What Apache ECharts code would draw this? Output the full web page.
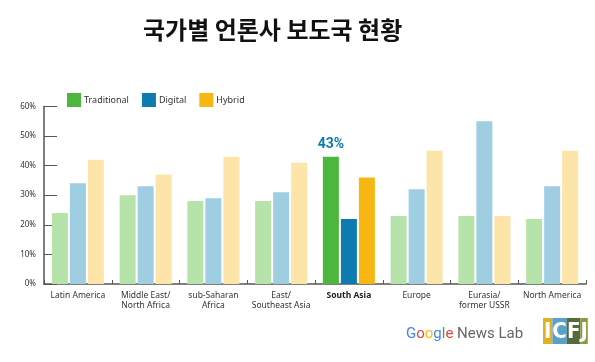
<!DOCTYPE html>
<html>
<head>
<meta charset="utf-8">
<script src="https://cdn.jsdelivr.net/npm/echarts@6/dist/echarts.min.js"></script>
<style>
html,body{margin:0;padding:0;background:#fff;}
#c{width:595px;height:362px;}
</style>
</head>
<body>
<div id="c"></div>
<script>
var title = '국가별 언론사 보도국 현황';
var categories = ['Latin America', 'Middle East/\nNorth Africa', 'sub-Saharan\nAfrica', 'East/\nSoutheast Asia', 'South Asia', 'Europe', 'Eurasia/\nformer USSR', 'North America'];
var seriesNames = ['Traditional', 'Digital', 'Hybrid'];
var traditional = [24, 30, 28, 28, 43, 23, 23, 22];
var digital = [34, 33, 29, 31, 22, 32, 55, 33];
var hybrid = [42, 37, 43, 41, 36, 45, 23, 45];
var highlightIndex = 4;
var highlightLabel = '43%';
var yTicks = [0, 10, 20, 30, 40, 50, 60];

var strongColors = ['#4cb63d', '#0d7bb0', '#f8b612'];
var lightColors = ['#b6e3a9', '#9fcee3', '#fde5a9'];
var values = [traditional, digital, hybrid];

var chart = echarts.init(document.getElementById('c'), null, {renderer: 'canvas'});

var series = values.map(function (arr, s) {
  return {
    name: seriesNames[s],
    type: 'bar',
    barWidth: 16,
    barGap: '12.5%',
    itemStyle: {color: strongColors[s]},
    data: arr.map(function (v, i) {
      var d = {value: v};
      if (i !== highlightIndex) {
        d.itemStyle = {color: lightColors[s]};
      } else if (s === 0) {
        d.label = {
          show: true, position: 'top', distance: 5,
          formatter: highlightLabel,
          color: '#0d7bb0', fontSize: 14, fontWeight: 'bold',
          fontFamily: 'Roboto, sans-serif'
        };
      }
      return d;
    })
  };
});

chart.setOption({
  animation: false,
  backgroundColor: '#fff',
  title: {
    text: title,
    left: 138, top: 13,
    textStyle: {fontFamily: '"Noto Sans CJK KR", sans-serif', fontSize: 24, fontWeight: 'bold', color: '#111'}
  },
  legend: {
    left: 67, top: 93, padding: 0,
    itemWidth: 14, itemHeight: 14, itemGap: 13,
    icon: 'rect',
    textStyle: {fontSize: 9, color: '#333', fontFamily: '"Noto Sans", sans-serif', padding: [0, 0, 0, -2]},
    data: seriesNames
  },
  grid: {left: 44, right: 9, top: 106.4, bottom: 78, containLabel: false},
  xAxis: {
    type: 'category',
    data: categories,
    axisLine: {lineStyle: {color: '#555', width: 1.5}},
    axisTick: {show: true, inside: true, length: 4, lineStyle: {color: '#555'}},
    axisLabel: {
      interval: 0,
      fontSize: 8.5, color: '#333', lineHeight: 10, margin: 7,
      fontFamily: '"Noto Sans", sans-serif',
      formatter: function (v, i) { return i === highlightIndex ? '{b|' + v + '}' : v; },
      rich: {b: {fontWeight: 'bold', fontSize: 8.5, color: '#222', fontFamily: '"Noto Sans", sans-serif'}}
    }
  },
  yAxis: {
    type: 'value',
    min: yTicks[0], max: yTicks[yTicks.length - 1], interval: 10,
    axisLine: {show: true, lineStyle: {color: '#555', width: 1.5}},
    axisTick: {show: true, inside: true, length: 13, lineStyle: {color: '#555'}},
    splitLine: {show: false},
    axisLabel: {formatter: '{value}%', fontSize: 8, color: '#333', margin: 8, padding: [6, 0, 0, 0], fontFamily: '"Noto Sans", sans-serif'}
  },
  graphic: [
    {
      type: 'text', left: 406, top: 327,
      style: {
        text: '{g1|G}{g2|o}{g3|o}{g1|g}{g4|l}{g2|e}{n| News Lab}',
        rich: {
          g1: {fill: '#4285f4', fontSize: 15, fontFamily: 'Roboto, sans-serif'},
          g2: {fill: '#ea4335', fontSize: 15, fontFamily: 'Roboto, sans-serif'},
          g3: {fill: '#fbbc05', fontSize: 15, fontFamily: 'Roboto, sans-serif'},
          g4: {fill: '#34a853', fontSize: 15, fontFamily: 'Roboto, sans-serif'},
          n: {fill: '#666', fontSize: 15, fontFamily: 'Roboto, sans-serif'}
        }
      }
    },
    {
      type: 'text', left: 543, top: 318,
      style: {
        text: '{i|I}{c|C}{f|F}{j|J}',
        rich: {
          i: {fill: '#fff', backgroundColor: '#e2b122', fontSize: 22, fontWeight: 'bold', padding: [3, 1, 1, 1], fontFamily: '"DejaVu Sans Condensed", sans-serif'},
          c: {fill: '#fff', backgroundColor: '#5aa2c5', fontSize: 22, fontWeight: 'bold', padding: [3, 0, 1, 0], fontFamily: '"DejaVu Sans Condensed", sans-serif'},
          f: {fill: '#fff', backgroundColor: '#556b3a', fontSize: 22, fontWeight: 'bold', padding: [3, 0, 1, 0], fontFamily: '"DejaVu Sans Condensed", sans-serif'},
          j: {fill: '#fff', backgroundColor: '#8c9a3f', fontSize: 22, fontWeight: 'bold', padding: [3, 0, 1, 0], fontFamily: '"DejaVu Sans Condensed", sans-serif'}
        }
      }
    }
  ],
  series: series
});
</script>
</body>
</html>
